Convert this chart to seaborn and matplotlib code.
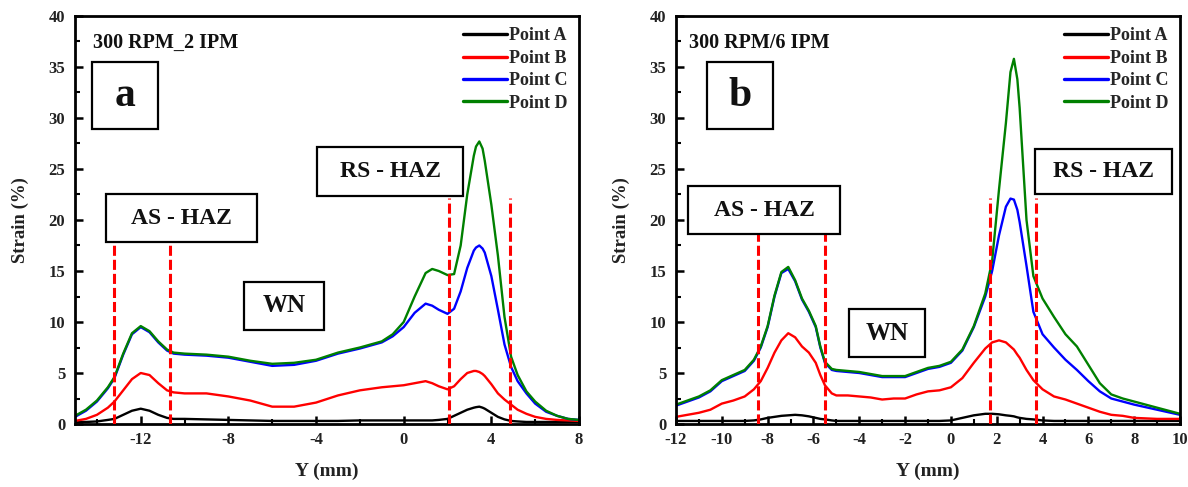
import numpy as np
import pandas as pd
import matplotlib
matplotlib.use("Agg")
import matplotlib.pyplot as plt
import seaborn as sns
from matplotlib.ticker import MultipleLocator
from matplotlib.patches import Rectangle

# ---------------- data: panel a (300 RPM_2 IPM) ----------------
Y_A = [-15, -14.5, -14, -13.5, -13.2, -12.8, -12.4, -12, -11.6, -11.2, -10.8, -10.5, -10,
       -9, -8, -7, -6, -5, -4, -3, -2, -1, -0.5, 0, 0.5, 1, 1.3, 1.6, 2, 2.3, 2.6, 2.9,
       3.2, 3.3, 3.45, 3.6, 3.7, 4.0, 4.3, 4.6, 4.9, 5.2, 5.6, 6, 6.5, 7, 7.5, 8]
A_POINT_A = [0.2, 0.2, 0.25, 0.4, 0.5, 0.9, 1.3, 1.5, 1.3, 0.9, 0.6, 0.5, 0.5,
             0.45, 0.4, 0.35, 0.3, 0.3, 0.3, 0.3, 0.35, 0.35, 0.35, 0.35, 0.35, 0.35, 0.35, 0.4, 0.5, 0.8, 1.1, 1.4,
             1.6, 1.65, 1.7, 1.6, 1.5, 1.1, 0.7, 0.45, 0.3, 0.25, 0.2, 0.2, 0.2, 0.2, 0.2, 0.2]
A_POINT_B = [0.3, 0.5, 0.9, 1.6, 2.2, 3.3, 4.4, 5.0, 4.8, 4.0, 3.3, 3.1, 3.0,
             3.0, 2.7, 2.3, 1.7, 1.7, 2.1, 2.8, 3.3, 3.6, 3.7, 3.8, 4.0, 4.2, 4.0, 3.7, 3.4, 3.7, 4.4, 5.0,
             5.2, 5.2, 5.1, 4.9, 4.7, 3.9, 3.0, 2.4, 1.9, 1.4, 1.0, 0.7, 0.5, 0.4, 0.35, 0.3]
A_POINT_C = [0.7, 1.3, 2.2, 3.5, 4.5, 6.8, 8.8, 9.5, 9.0, 8.0, 7.2, 6.9, 6.8,
             6.7, 6.5, 6.1, 5.7, 5.8, 6.2, 6.9, 7.4, 8.0, 8.6, 9.5, 10.9, 11.8, 11.6, 11.2, 10.8, 11.3, 13.0, 15.3,
             17.0, 17.3, 17.5, 17.2, 16.8, 14.5, 11.2, 7.8, 5.6, 4.2, 3.0, 2.0, 1.2, 0.8, 0.5, 0.4]
A_POINT_D = [0.8, 1.4, 2.3, 3.6, 4.6, 6.9, 8.9, 9.6, 9.1, 8.1, 7.3, 7.0, 6.9,
             6.8, 6.6, 6.2, 5.9, 6.0, 6.3, 7.0, 7.5, 8.1, 8.8, 10.0, 12.5, 14.8, 15.2, 15.0, 14.6, 14.7, 17.5, 22.5,
             26.3, 27.2, 27.7, 27.0, 25.8, 21.5, 16.5, 10.5, 6.6, 4.8, 3.2, 2.2, 1.3, 0.8, 0.5, 0.4]
ZONE_X_A = [-13.2, -10.65, 2.05, 4.85]
ZONE_TOP_A = [17.7, 17.7, 22.2, 22.2]

# ---------------- data: panel b (300 RPM/6 IPM) ----------------
Y_B = [-12, -11.5, -11, -10.5, -10, -9.5, -9, -8.6, -8.3, -8, -7.7, -7.4, -7.1, -6.8, -6.5,
       -6.2, -5.9, -5.7, -5.5, -5.2, -5, -4.5, -4, -3.5, -3, -2.5, -2, -1.5, -1, -0.5, 0,
       0.5, 1, 1.5, 1.8, 2.1, 2.4, 2.6, 2.75, 2.9, 3.0, 3.3, 3.6, 4.0, 4.5, 5, 5.5, 6, 6.5, 7, 7.5,
       8, 9, 10]
B_POINT_A = [0.3, 0.3, 0.3, 0.3, 0.3, 0.3, 0.3, 0.35, 0.45, 0.6, 0.7, 0.8, 0.85, 0.9, 0.85,
             0.75, 0.6, 0.5, 0.45, 0.35, 0.3, 0.3, 0.3, 0.3, 0.3, 0.3, 0.3, 0.3, 0.3, 0.3, 0.35,
             0.6, 0.85, 1.0, 1.0, 0.95, 0.85, 0.8, 0.75, 0.65, 0.6, 0.5, 0.45, 0.35, 0.3, 0.3, 0.3, 0.3, 0.3, 0.3, 0.3,
             0.3, 0.3, 0.3]
B_POINT_B = [0.7, 0.9, 1.1, 1.4, 2.0, 2.3, 2.7, 3.4, 4.2, 5.5, 7.0, 8.2, 8.9, 8.5, 7.6,
             7.0, 6.0, 4.8, 3.8, 3.0, 2.8, 2.8, 2.7, 2.6, 2.4, 2.5, 2.5, 2.9, 3.2, 3.3, 3.6,
             4.5, 6.0, 7.4, 8.0, 8.2, 8.0, 7.6, 7.3, 6.8, 6.5, 5.3, 4.3, 3.4, 2.7, 2.4, 2.0, 1.6, 1.2, 0.9, 0.8,
             0.6, 0.5, 0.5]
B_POINT_C = [1.8, 2.2, 2.6, 3.2, 4.2, 4.7, 5.2, 6.2, 7.5, 9.5, 12.5, 14.8, 15.2, 14.0, 12.2,
             11.0, 9.5, 7.5, 6.0, 5.3, 5.2, 5.1, 5.0, 4.8, 4.6, 4.6, 4.6, 5.0, 5.4, 5.6, 6.0,
             7.2, 9.5, 12.5, 15.0, 18.5, 21.3, 22.1, 22.0, 21.0, 19.8, 15.5, 11.0, 8.8, 7.5, 6.3, 5.3, 4.2, 3.2, 2.5, 2.2,
             1.9, 1.4, 0.9]
B_POINT_D = [1.9, 2.3, 2.7, 3.3, 4.3, 4.8, 5.3, 6.3, 7.6, 9.6, 12.6, 14.9, 15.4, 14.1, 12.3,
             11.1, 9.6, 7.6, 6.1, 5.4, 5.3, 5.2, 5.1, 4.9, 4.7, 4.7, 4.7, 5.1, 5.5, 5.7, 6.1,
             7.3, 9.6, 12.8, 16.0, 23.0, 29.5, 34.5, 35.8, 33.8, 31.0, 20.0, 14.5, 12.3, 10.5, 8.8, 7.6, 5.8, 4.0, 2.9, 2.5,
             2.2, 1.6, 1.0]
ZONE_X_B = [-8.4, -5.5, 1.7, 3.7]
ZONE_TOP_B = [18.7, 18.7, 22.2, 22.2]

SERIES = ["Point A", "Point B", "Point C", "Point D"]
COLORS = ["#000000", "#ff0000", "#0000ff", "#008000"]

# ---------------- style ----------------
sns.set_theme(style="white")
plt.rcParams["font.family"] = ["Liberation Serif", "DejaVu Serif"]
plt.rcParams["font.weight"] = "bold"
plt.rcParams["axes.labelweight"] = "bold"
plt.rcParams["axes.unicode_minus"] = False

W, H = 1188, 487
fig = plt.figure(figsize=(W / 100, H / 100), dpi=100)
ax_a = fig.add_axes([75 / W, (H - 424) / H, 504 / W, 408 / H])
ax_b = fig.add_axes([676 / W, (H - 424) / H, 504 / W, 408 / H])


def draw_panel(ax, xs, ys_list, zone_x, zone_top, xlim, xmajor, xminor, title, letter,
               boxes):
    frames = []
    for name, ys in zip(SERIES, ys_list):
        frames.append(pd.DataFrame({"Y": xs, "Strain": ys, "Series": name}))
    df = pd.concat(frames, ignore_index=True)
    sns.lineplot(data=df, x="Y", y="Strain", hue="Series", hue_order=SERIES,
                 palette=COLORS, estimator=None, sort=False, lw=1.7, ax=ax, zorder=2)
    ax.vlines(zone_x, 0, zone_top, colors="#ff0000", linestyles=(0, (3.3, 1.3)),
              lw=2.2, zorder=3)
    ax.set_xlim(*xlim)
    ax.set_ylim(0, 40)
    ax.xaxis.set_major_locator(MultipleLocator(xmajor))
    ax.xaxis.set_minor_locator(MultipleLocator(xminor))
    ax.yaxis.set_major_locator(MultipleLocator(5))
    ax.yaxis.set_minor_locator(MultipleLocator(2.5))
    ax.tick_params(which="major", direction="in", length=6, width=1.8,
                   labelsize=12, color="black", labelcolor="#222222")
    ax.tick_params(which="minor", direction="in", length=3.5, width=1.5, color="black")
    ax.tick_params(axis="x", which="both", bottom=True, top=False, pad=6)
    ax.tick_params(axis="y", which="both", left=True, right=False, pad=7)
    for lab in ax.get_xticklabels() + ax.get_yticklabels():
        lab.set_fontweight("bold")
    for sp in ax.spines.values():
        sp.set_linewidth(2.0)
        sp.set_color("black")
        sp.set_visible(True)
    ax.set_xlabel("Y (mm)", fontsize=14, fontweight="bold", color="#222222", labelpad=10)
    ax.set_ylabel("Strain (%)", fontsize=13.5, fontweight="bold", color="#222222", labelpad=14)
    ax.set_facecolor("white")

    ax.text(0.035 if letter == "a" else 0.025, 0.934, title, transform=ax.transAxes,
            fontsize=14.5, fontweight="bold", ha="left", va="center", color="#111111")

    for (x0, x1, y0, y1, txt, fs) in boxes:
        ax.add_patch(Rectangle((x0, y0), x1 - x0, y1 - y0, transform=ax.transAxes,
                               fill=True, facecolor="white", edgecolor="black",
                               lw=1.6, zorder=5))
        ax.text((x0 + x1) / 2, (y0 + y1) / 2, txt, transform=ax.transAxes,
                fontsize=fs, fontweight="bold", ha="center", va="center",
                color="#111111", zorder=6)

    leg = ax.legend(loc="upper right", bbox_to_anchor=(0.978, 0.972), frameon=False,
                    fontsize=13, handlelength=2.4, handletextpad=0.15,
                    labelspacing=0.3, borderpad=0, borderaxespad=0)
    for t in leg.get_texts():
        t.set_fontweight("bold")
    for h in leg.get_lines():
        h.set_linewidth(2.4)


def fx(px, x0):
    return (px - x0) / 504


def fy(py):
    return (424 - py) / 408


boxes_a = [
    (fx(92, 75), fx(158, 75), fy(129), fy(62), "a", 30),
    (fx(106, 75), fx(257, 75), fy(242), fy(194), "AS - HAZ", 17),
    (fx(317, 75), fx(463, 75), fy(196), fy(147), "RS - HAZ", 17),
    (fx(244, 75), fx(324, 75), fy(330), fy(282), "WN", 18),
]
boxes_b = [
    (fx(707, 676), fx(773, 676), fy(129), fy(62), "b", 30),
    (fx(688, 676), fx(840, 676), fy(234), fy(186), "AS - HAZ", 17),
    (fx(1035, 676), fx(1172, 676), fy(194), fy(149), "RS - HAZ", 17),
    (fx(849, 676), fx(925, 676), fy(357), fy(309), "WN", 18),
]

draw_panel(ax_a, Y_A, [A_POINT_A, A_POINT_B, A_POINT_C, A_POINT_D], ZONE_X_A, ZONE_TOP_A,
           (-15, 8), 4, 2, "300 RPM_2 IPM", "a", boxes_a)
draw_panel(ax_b, Y_B, [B_POINT_A, B_POINT_B, B_POINT_C, B_POINT_D], ZONE_X_B, ZONE_TOP_B,
           (-12, 10), 2, 1, "300 RPM/6 IPM", "b", boxes_b)

fig.savefig("out.png", dpi=100, facecolor="white")
